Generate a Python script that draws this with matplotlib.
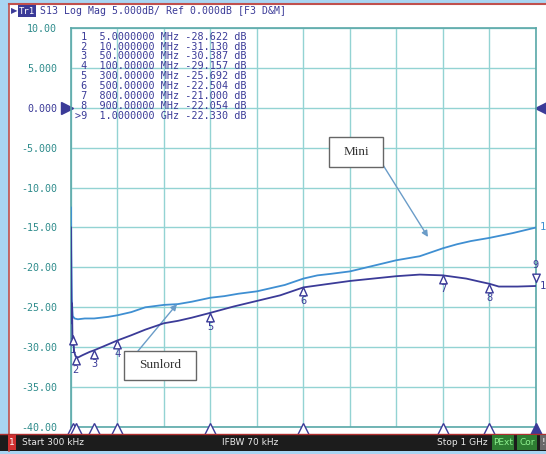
import numpy as np
import matplotlib.pyplot as plt
from matplotlib.patches import Rectangle
from matplotlib.path import Path

# network analyzer screen: S13 of two parts (Mini / Sunlord)

W, H = 546, 454

freq_mini = [0.3, 1, 2, 4, 8, 15, 30, 50, 80, 100, 130, 160, 200, 230, 260, 300,
             330, 360, 400, 430, 460, 500, 530, 560, 600, 650, 700, 750, 800,
             830, 860, 900, 950, 1000]
db_mini = [-12.5, -18.0, -24.0, -26.1, -26.4, -26.5, -26.4, -26.4, -26.2, -26.0,
           -25.6, -25.0, -24.7, -24.6, -24.3, -23.8, -23.6, -23.3, -23.0, -22.6,
           -22.2, -21.4, -21.0, -20.8, -20.5, -19.8, -19.1, -18.6, -17.6, -17.1,
           -16.7, -16.3, -15.7, -15.0]

freq_sun = [0.3, 0.8, 1.5, 2.5, 3.5, 5, 7, 10, 15, 25, 40, 50, 70, 100, 130, 160,
            200, 230, 260, 300, 350, 400, 450, 500, 550, 600, 650, 700, 750, 800,
            850, 880, 900, 920, 960, 1000]
db_sun = [-15.0, -22.0, -27.0, -24.5, -29.0, -28.622, -30.5, -31.13, -31.3, -31.0,
          -30.6, -30.387, -29.9, -29.157, -28.5, -27.8, -27.0, -26.7, -26.3,
          -25.692, -24.9, -24.2, -23.5, -22.504, -22.1, -21.7, -21.4, -21.1,
          -20.9, -21.0, -21.4, -21.8, -22.054, -22.4, -22.4, -22.33]

mk_num = ['1', '2', '3', '4', '5', '6', '7', '8', '9']
mk_freq = [5, 10, 50, 100, 300, 500, 800, 900, 1000]
mk_db = [-28.622, -31.130, -30.387, -29.157, -25.692, -22.504, -21.000, -22.054, -22.330]
mk_ftxt = ['5.0000000 MHz', '10.000000 MHz', '50.000000 MHz', '100.00000 MHz',
           '300.00000 MHz', '500.00000 MHz', '800.00000 MHz', '900.00000 MHz',
           '1.0000000 GHz']

yticks = [10, 5, 0, -5, -10, -15, -20, -25, -30, -35, -40]
ylabels = ['10.00', '5.000', '0.000', '-5.000', '-10.00', '-15.00', '-20.00',
           '-25.00', '-30.00', '-35.00', '-40.00']

f_start, f_stop = 0.3, 1000.0

navy = '#3b3b98'
mini_c = '#3f8fd2'
grid_c = '#93d3d3'
teal = '#2f8c8c'
arr_c = '#6a9cc8'
mono = 'DejaVu Sans Mono'

def fx(x):
    return x / W

def fy(y):
    return 1 - y / H

fig = plt.figure(figsize=(W / 100, H / 100), dpi=100)
fig.patch.set_facecolor('#a9d5f2')
# white screen + red frame
fig.patches.append(Rectangle((fx(9), fy(451)), fx(546 - 9), 447 / H, transform=fig.transFigure,
                             facecolor='white', edgecolor='none', zorder=-2))
fig.add_artist(plt.Line2D([fx(9), fx(9)], [fy(4), fy(451)], color='#c0504d', lw=1.2))
fig.add_artist(plt.Line2D([fx(9), fx(546)], [fy(4), fy(4)], color='#c0504d', lw=1.5))

ax = fig.add_axes([fx(71), fy(427), fx(536 - 71), (427 - 28) / H])
ax.set_xlim(f_start, f_stop)
ax.set_ylim(-40, 10)
ax.set_xticks(np.linspace(f_start, f_stop, 11))
ax.set_xticklabels([])
ax.set_yticks(yticks)
ax.set_yticklabels(ylabels, fontfamily=mono, fontsize=7.2)
ax.tick_params(length=0, pad=10)
for lab in ax.get_yticklabels():
    lab.set_color(navy if lab.get_text() == '0.000' else teal)
ax.grid(True, color=grid_c, lw=1)
for s in ax.spines.values():
    s.set_color('#5aa8a8')
    s.set_linewidth(1.2)

ax.plot(freq_mini, db_mini, color=mini_c, lw=1.3, zorder=3)
ax.plot(freq_sun, db_sun, color=navy, lw=1.3, zorder=4)

# marker triangles on the trace
tri_up = Path([(0, 0), (-0.45, -1), (0.45, -1), (0, 0)], closed=True)
tri_dn = Path([(0, 0), (-0.45, 1), (0.45, 1), (0, 0)], closed=True)
for n, f, v in zip(mk_num, mk_freq, mk_db):
    if n == '9':
        ax.plot(f, v + 0.5, marker=tri_dn, ms=12, mfc='white', mec=navy, mew=1,
                clip_on=False, zorder=5)
        ax.annotate(n, (f, v), xytext=(0, 15), textcoords='offset points', ha='center',
                    va='center', color=navy, fontsize=7.5, fontfamily=mono,
                    annotation_clip=False)
    else:
        ax.plot(f, v, marker=tri_up, ms=12, mfc='white', mec=navy, mew=1,
                clip_on=False, zorder=5)
        ax.annotate(n, (f, v), xytext=(0, -10), textcoords='offset points', ha='center',
                    va='center', color=navy, fontsize=7.5, fontfamily=mono,
                    annotation_clip=False)

# trace end labels
ax.annotate('1', (f_stop, db_mini[-1]), xytext=(3, 0), textcoords='offset points',
            va='center', color=mini_c, fontsize=7.5, fontfamily=mono, annotation_clip=False)
ax.annotate('1', (f_stop, db_sun[-1]), xytext=(3, 0), textcoords='offset points',
            va='center', color=navy, fontsize=7.5, fontfamily=mono, annotation_clip=False)

# marker positions along the bottom
for n, f in zip(mk_num, mk_freq):
    fc = navy if n == '9' else 'white'
    ax.plot(f, -40.3, marker='^', ms=8, mfc=fc, mec=navy, mew=1, clip_on=False, zorder=6)

# reference level arrows
ax.plot(-9, 0, marker='>', ms=8, color=navy, clip_on=False)
ax.plot(1010, 0, marker='<', ms=8, color=navy, clip_on=False)

# marker table
for i, (n, ft, v) in enumerate(zip(mk_num, mk_ftxt, mk_db)):
    pre = '>' + n if n == '9' else ' ' + n
    fig.text(fx(75), fy(36.7 + i * 9.87), f'{pre}  {ft} {v:.3f} dB', fontfamily=mono,
             fontsize=7.3, color=navy, va='center', ha='left')

# title line
fig.text(fx(11), fy(11), '\u25b6', fontsize=6, color=navy, va='center')
fig.text(fx(19), fy(11), 'Tr1', fontsize=6.5, fontfamily=mono, color='white', va='center',
         bbox=dict(boxstyle='square,pad=0.12', fc=navy, ec='none'))
fig.text(fx(40), fy(11), 'S13 Log Mag 5.000dB/ Ref 0.000dB [F3 D&M]', fontsize=7.1,
         fontfamily=mono, color=navy, va='center')

# callouts
fig.patches.append(Rectangle((fx(329), fy(167)), fx(383 - 329), 30 / H, transform=fig.transFigure,
                             facecolor='white', edgecolor='#666666', lw=1, zorder=5))
fig.text(fx(356), fy(152), 'Mini', fontfamily='Liberation Serif', fontsize=9.5,
         color='#333333', ha='center', va='center', zorder=6)
fig.patches.append(Rectangle((fx(124), fy(380)), fx(196 - 124), 29 / H, transform=fig.transFigure,
                             facecolor='white', edgecolor='#666666', lw=1, zorder=5))
fig.text(fx(160), fy(365.5), 'Sunlord', fontfamily='Liberation Serif', fontsize=9.5,
         color='#333333', ha='center', va='center', zorder=6)
ax.annotate('', xy=(767.8, -16.19), xycoords='data', xytext=(fx(383), fy(165)),
            textcoords='figure fraction',
            arrowprops=dict(arrowstyle='-|>', color=arr_c, lw=1, mutation_scale=9,
                            shrinkA=0, shrinkB=0))
ax.annotate('', xy=(228.2, -24.59), xycoords='data', xytext=(fx(138), fy(351)),
            textcoords='figure fraction',
            arrowprops=dict(arrowstyle='-|>', color=arr_c, lw=1, mutation_scale=9,
                            shrinkA=0, shrinkB=0))

# status bar
fig.patches.append(Rectangle((0, fy(451)), 1, 17 / H, transform=fig.transFigure,
                             facecolor='#1c1c1c', edgecolor='none', zorder=1))
fig.add_artist(plt.Line2D([0, 1], [fy(434), fy(434)], color='#b03030', lw=1))
fig.patches.append(Rectangle((fx(8), fy(450)), fx(8), 15 / H, transform=fig.transFigure,
                             facecolor='#d03030', edgecolor='none', zorder=2))
fig.text(fx(12), fy(442.5), '1', fontsize=6.5, color='white', ha='center', va='center')
fig.text(fx(22), fy(442.5), 'Start 300 kHz', fontsize=6.5, color='#e8e8e8', va='center')
fig.text(fx(250), fy(442.5), 'IFBW 70 kHz', fontsize=6.5, color='#e8e8e8', va='center',
         ha='center')
fig.text(fx(488), fy(442.5), 'Stop 1 GHz', fontsize=6.5, color='#e8e8e8', va='center',
         ha='right')
fig.patches.append(Rectangle((fx(492), fy(450)), fx(22), 15 / H, transform=fig.transFigure,
                             facecolor='#2e7d32', edgecolor='none', zorder=2))
fig.text(fx(503), fy(442.5), 'PExt', fontsize=6.5, color='#8ef08e', ha='center', va='center')
fig.patches.append(Rectangle((fx(517), fy(450)), fx(20), 15 / H, transform=fig.transFigure,
                             facecolor='#2e7d32', edgecolor='none', zorder=2))
fig.text(fx(527), fy(442.5), 'Cor', fontsize=6.5, color='#8ef08e', ha='center', va='center')
fig.patches.append(Rectangle((fx(540), fy(450)), fx(6), 15 / H, transform=fig.transFigure,
                             facecolor='#6a6a6a', edgecolor='none', zorder=2))
fig.text(fx(543), fy(442.5), '!', fontsize=6.5, color='white', ha='center', va='center')

fig.savefig('out.png', dpi=100, facecolor=fig.get_facecolor())
